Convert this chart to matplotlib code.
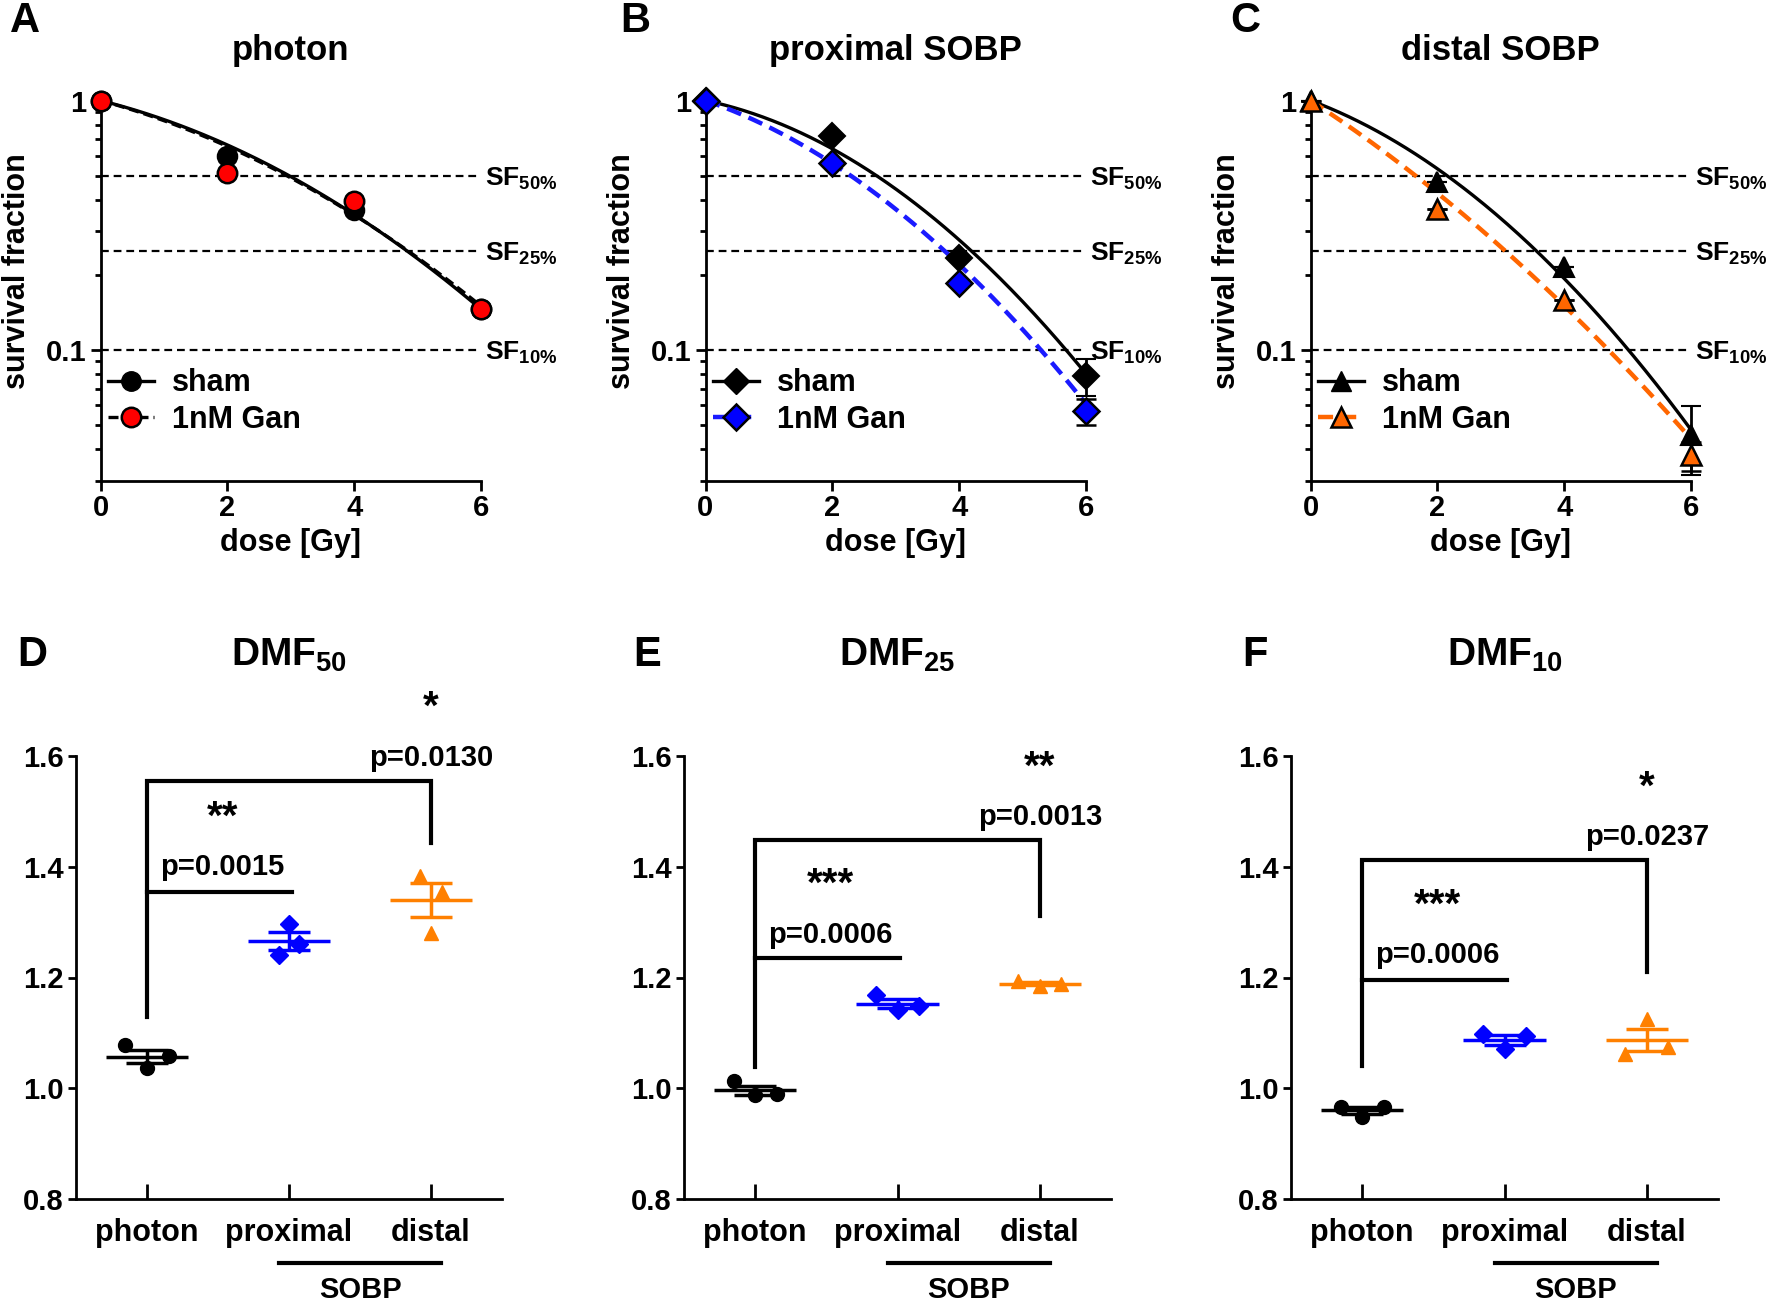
import matplotlib.pyplot as plt
import numpy as np
from matplotlib.lines import Line2D
from matplotlib.ticker import FixedLocator, LogLocator, NullFormatter

plt.rcParams['font.family'] = ['Liberation Sans', 'DejaVu Sans']
plt.rcParams['font.weight'] = 'bold'
plt.rcParams['axes.labelweight'] = 'bold'
plt.rcParams['mathtext.fontset'] = 'custom'
plt.rcParams['mathtext.rm'] = 'Liberation Sans:bold'
plt.rcParams['mathtext.it'] = 'Liberation Sans:bold'
plt.rcParams['mathtext.bf'] = 'Liberation Sans:bold'
plt.rcParams['axes.linewidth'] = 2

# ---- clonogenic survival (top row) ----
dose = [0, 2, 4, 6]
photon_sham = [1.0, 0.60, 0.365, 0.146]
photon_gan = [1.0, 0.514, 0.395, 0.146]
prox_sham = [1.0, 0.723, 0.233, 0.0787]
prox_gan = [1.0, 0.56, 0.185, 0.057]
dist_sham = [1.0, 0.472, 0.215, 0.0457]
dist_gan = [1.0, 0.366, 0.158, 0.0378]

photon_sham_err = [0, 0, 0, 0]
photon_gan_err = [0, 0, 0, 0]
prox_sham_err = [0, 0, 0, 0.013]
prox_gan_err = [0, 0, 0, 0.0068]
dist_sham_err = [0, 0, 0, 0.014]
dist_gan_err = [0, 0, 0, 0.005]

# linear-quadratic fit parameters (alpha, beta) estimated from the drawn curves
photon_sham_fit = (0.147, 0.029)
photon_gan_fit = (0.160, 0.026)
prox_sham_fit = (0.124, 0.0494)
prox_gan_fit = (0.2016, 0.0442)
dist_sham_fit = (0.219, 0.0479)
dist_gan_fit = (0.380, 0.0234)

sf_levels = [0.5, 0.25, 0.1]
sf_names = ['50', '25', '10']

# ---- dose modifying factors (bottom row) ----
groups = ['photon', 'proximal', 'distal']
dmf50_photon = [1.078, 1.036, 1.058]
dmf50_proximal = [1.240, 1.296, 1.260]
dmf50_distal = [1.383, 1.280, 1.355]
dmf25_photon = [1.013, 0.987, 0.990]
dmf25_proximal = [1.169, 1.141, 1.149]
dmf25_distal = [1.193, 1.185, 1.189]
dmf10_photon = [0.967, 0.948, 0.967]
dmf10_proximal = [1.098, 1.070, 1.095]
dmf10_distal = [1.062, 1.125, 1.074]

p_proximal = ['p=0.0015', 'p=0.0006', 'p=0.0006']
p_distal = ['p=0.0130', 'p=0.0013', 'p=0.0237']
stars_proximal = ['**', '***', '***']
stars_distal = ['*', '**', '*']

W, H = 1770, 1308
fig = plt.figure(figsize=(W / 100, H / 100), dpi=100)


def add_ax(x0, y0, x1, y1):
    return fig.add_axes([x0 / W, 1 - y1 / H, (x1 - x0) / W, (y1 - y0) / H])


def lq(params, d):
    a, b = params
    return np.exp(-(a * d + b * d ** 2))


def survival_panel(ax, sham, gan, sham_err, gan_err, sham_fit, gan_fit,
                   marker, gan_color, gan_line_color, gan_lw, gan_dash):
    d = np.linspace(0, 6, 200)
    for lvl, name in zip(sf_levels, sf_names):
        ax.plot([0, 6], [lvl, lvl], color='black', lw=1.6, dashes=(3.5, 2.2),
                clip_on=False, zorder=1)
        ax.annotate('SF$_{' + name + r'\%}$', xy=(6, lvl), xytext=(3, -7),
                    textcoords='offset points', va='baseline', ha='left',
                    fontsize=19, annotation_clip=False)
    ax.plot(d, lq(sham_fit, d), color='black', lw=2.4, zorder=2)
    ax.plot(d, lq(gan_fit, d), color=gan_line_color, lw=gan_lw, dashes=gan_dash,
            zorder=2)
    ms = {'o': 14, 'D': 13, '^': 15}[marker]
    ax.errorbar(dose, sham, yerr=sham_err, fmt=marker, color='black', ms=ms,
                mec='black', mew=1.5, capsize=7, capthick=2, elinewidth=2,
                clip_on=False, zorder=3)
    ax.errorbar(dose, gan, yerr=gan_err, fmt=marker, color='black', mfc=gan_color,
                ms=ms, mec='black', mew=1.8, capsize=7, capthick=2, elinewidth=2,
                clip_on=False, zorder=4)

    ax.set_yscale('log')
    ax.set_ylim(0.03, 1.0)
    ax.set_xlim(0, 6)
    ax.set_xticks([0, 2, 4, 6])
    ax.yaxis.set_major_locator(FixedLocator([0.1, 1]))
    ax.set_yticklabels(['0.1', '1'])
    ax.yaxis.set_minor_locator(LogLocator(base=10, subs=np.arange(2, 10)))
    ax.yaxis.set_minor_formatter(NullFormatter())
    ax.tick_params(axis='both', which='major', labelsize=21, width=2, length=7,
                   direction='out', pad=3)
    ax.tick_params(axis='y', which='minor', width=2, length=4, direction='out')
    for s in ['top', 'right']:
        ax.spines[s].set_visible(False)
    ax.set_xlabel('dose [Gy]', fontsize=22)
    ax.xaxis.set_label_coords(0.5, -0.125)
    ax.set_ylabel('survival fraction', fontsize=22)
    ax.yaxis.set_label_coords(-0.18, 0.55)

    handles = [
        Line2D([], [], color='black', lw=2.4, marker=marker, ms=ms, mfc='black',
               mec='black'),
        Line2D([], [], color=gan_line_color, lw=gan_lw, dashes=gan_dash,
               marker=marker, ms=ms, mfc=gan_color, mec='black', mew=1.8),
    ]
    ax.legend(handles, ['sham', '1nM Gan'], loc='upper left',
              bbox_to_anchor=(0.02, 0.295), frameon=False, fontsize=22,
              handlelength=1.5, handletextpad=0.6, labelspacing=0.22,
              borderpad=0, borderaxespad=0)


def dmf_panel(ax, photon, proximal, distal, brackets, idx, spreads):
    data = [photon, proximal, distal]
    colors = ['black', '#0000FF', '#FF8000']
    markers = ['o', 'D', '^']
    sizes = [10, 9, 10]
    for i, vals in enumerate(data):
        v = np.array(vals)
        offs = np.array([-1, 0, 1]) * spreads[i]
        ax.plot(i + offs, v, markers[i], color=colors[i], ms=sizes[i], zorder=3)
        m = v.mean()
        sem = v.std(ddof=1) / np.sqrt(len(v))
        ax.hlines(m, i - 0.29, i + 0.29, color=colors[i], lw=2.5, zorder=4)
        ax.errorbar(i, m, yerr=sem, fmt='none', ecolor=colors[i], elinewidth=2.5,
                    capsize=15, capthick=2.5, zorder=4)

    low, top, base, drop, s_low, p_low, p_top, s_top = brackets
    ax.plot([0, 0, 2, 2], [base, top, top, drop], color='black', lw=3,
            solid_joinstyle='miter', clip_on=False, zorder=5)
    ax.plot([0, 1.02], [low, low], color='black', lw=3, zorder=5)
    xl = 0.53
    ax.text(xl, p_low, p_proximal[idx], ha='center', va='center', fontsize=21)
    ax.annotate(stars_proximal[idx], (xl, s_low), xytext=(0, -7),
                textcoords='offset points', ha='center', va='center', fontsize=29)
    ax.text(2.0, p_top, p_distal[idx], ha='center', va='center', fontsize=21,
            clip_on=False)
    ax.annotate(stars_distal[idx], (2.0, s_top), xytext=(0, -7),
                textcoords='offset points', ha='center', va='center', fontsize=29,
                annotation_clip=False)

    ax.plot([0.93, 2.07], [0.684, 0.684], color='black', lw=3, clip_on=False)
    ax.text(1.5, 0.636, 'SOBP', ha='center', va='center', fontsize=21)

    ax.set_xlim(-0.5, 2.5)
    ax.set_ylim(0.8, 1.6)
    ax.set_xticks([0, 1, 2])
    ax.set_xticklabels(groups)
    ax.set_yticks([0.8, 1.0, 1.2, 1.4, 1.6])
    ax.set_yticklabels(['0.8', '1.0', '1.2', '1.4', '1.6'])
    ax.tick_params(axis='x', direction='in', length=11, width=2, labelsize=22,
                   pad=14)
    ax.tick_params(axis='y', direction='out', length=6, width=2, labelsize=21,
                   pad=3)
    for s in ['top', 'right']:
        ax.spines[s].set_visible(False)


# top row
ax_a = add_ax(100.5, 100.5, 481, 480.5)
ax_b = add_ax(705.5, 100.5, 1086, 480.5)
ax_c = add_ax(1310.5, 100.5, 1691, 480.5)

survival_panel(ax_a, photon_sham, photon_gan, photon_sham_err,
               photon_gan_err, photon_sham_fit, photon_gan_fit, 'o', '#FF0000',
               'black', 2.4, (3.0, 1.5))
survival_panel(ax_b, prox_sham, prox_gan, prox_sham_err,
               prox_gan_err, prox_sham_fit, prox_gan_fit, 'D', '#0000FF',
               '#1A1AFF', 3.2, (3.4, 1.8))
survival_panel(ax_c, dist_sham, dist_gan, dist_sham_err,
               dist_gan_err, dist_sham_fit, dist_gan_fit, '^', '#FF6600',
               '#FF6600', 3.2, (3.4, 1.8))

# bottom row
ax_d = add_ax(76, 756, 502, 1199)
ax_e = add_ax(684, 756, 1111, 1199)
ax_f = add_ax(1291, 756, 1718, 1199)

# bracket heights: low bar, top bar, photon leg bottom, distal leg bottom,
# low stars, low p, top p, top stars
brackets_50 = [1.354, 1.554, 1.129, 1.443, 1.506, 1.399, 1.596, 1.705]
brackets_25 = [1.235, 1.448, 1.038, 1.311, 1.385, 1.277, 1.490, 1.597]
brackets_10 = [1.195, 1.413, 1.040, 1.210, 1.347, 1.240, 1.453, 1.560]

dmf_panel(ax_d, dmf50_photon, dmf50_proximal, dmf50_distal,
          brackets_50, 0, [0.155, 0.07, 0.08])
dmf_panel(ax_e, dmf25_photon, dmf25_proximal, dmf25_distal,
          brackets_25, 1, [0.15, 0.15, 0.15])
dmf_panel(ax_f, dmf10_photon, dmf10_proximal, dmf10_distal,
          brackets_10, 2, [0.15, 0.15, 0.15])

# titles and panel letters
for ax, t in [(ax_a, 'photon'), (ax_b, 'proximal SOBP'), (ax_c, 'distal SOBP')]:
    ax.text(0.5, 1 + 50 / 380, t, transform=ax.transAxes, ha='center',
            va='center', fontsize=25)
for ax, t in [(ax_d, 'DMF$_{50}$'), (ax_e, 'DMF$_{25}$'), (ax_f, 'DMF$_{10}$')]:
    ax.text(0.5, 1 + 101 / 443, t, transform=ax.transAxes, ha='center',
            va='center', fontsize=28)

for lbl, x, y in [('A', 25, 21), ('B', 635, 21), ('C', 1245, 21),
                  ('D', 32, 655), ('E', 647, 655), ('F', 1255, 655)]:
    fig.text(x / W, 1 - y / H, lbl, ha='center', va='center', fontsize=30)

fig.savefig('out.png', dpi=100)
